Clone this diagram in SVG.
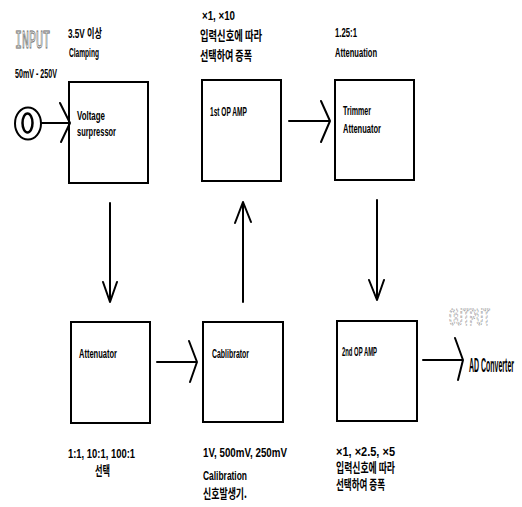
<svg xmlns="http://www.w3.org/2000/svg" width="522" height="507" viewBox="0 0 522 507">
<style>
.box{fill:none;stroke:#000;stroke-width:2}
.ln{fill:none;stroke:#000;stroke-width:2;stroke-linecap:round;stroke-linejoin:round}
.t{font-family:"Liberation Sans","Noto Sans CJK KR",sans-serif;font-size:12px;font-weight:bold;fill:#000}
.k{font-family:"Noto Sans CJK KR",sans-serif;font-size:13px;font-weight:bold;fill:#000}
.h{font-family:"Liberation Mono",monospace;font-size:12px;fill:none;stroke:#666;stroke-width:0.8}
.hd{font-family:"Liberation Mono",monospace;font-size:11.4px;fill:none;stroke:#888;stroke-width:0.8;stroke-dasharray:2 1.5}
</style>
<rect width="522" height="507" fill="#fff"/>

<g id="input">
  <text class="h" transform="translate(15,48) scale(1,2.2)" x="0" y="0" textLength="35" lengthAdjust="spacingAndGlyphs" vector-effect="non-scaling-stroke">INPUT</text>
  <text class="t" x="15" y="78" textLength="42" lengthAdjust="spacingAndGlyphs">50mV - 250V</text>
  <ellipse cx="28" cy="123.5" rx="13" ry="16" class="ln"/>
  <ellipse cx="27.5" cy="123" rx="5" ry="9.5" fill="none" stroke="#000" stroke-width="2.5"/>
</g>

<g id="voltage-surpressor">
  <text class="t" x="68" y="38" textLength="34" lengthAdjust="spacingAndGlyphs">3.5V 이상</text>
  <text class="t" x="69" y="57" textLength="30" lengthAdjust="spacingAndGlyphs">Clamping</text>
  <rect class="box" x="69" y="82" width="79" height="101"/>
  <text class="t" x="77" y="120" textLength="28" lengthAdjust="spacingAndGlyphs">Voltage</text>
  <text class="t" x="77" y="136" textLength="39" lengthAdjust="spacingAndGlyphs">surpressor</text>
</g>

<g id="op-amp-1">
  <text class="t" x="202" y="20" textLength="33" lengthAdjust="spacingAndGlyphs">×1, ×10</text>
  <text class="k" x="200" y="40" textLength="62" lengthAdjust="spacingAndGlyphs">입력신호에 따라</text>
  <text class="k" x="200" y="60" textLength="52" lengthAdjust="spacingAndGlyphs">선택하여 증폭</text>
  <rect class="box" x="202" y="80" width="79" height="101"/>
  <text class="t" x="210" y="116" textLength="37" lengthAdjust="spacingAndGlyphs">1st OP AMP</text>
</g>

<g id="trimmer-attenuator">
  <text class="t" x="335" y="37" textLength="22" lengthAdjust="spacingAndGlyphs">1.25:1</text>
  <text class="t" x="335" y="57" textLength="42" lengthAdjust="spacingAndGlyphs">Attenuation</text>
  <rect class="box" x="335" y="80" width="79" height="100"/>
  <text class="t" x="343" y="115" textLength="28" lengthAdjust="spacingAndGlyphs">Trimmer</text>
  <text class="t" x="343" y="133" textLength="38" lengthAdjust="spacingAndGlyphs">Attenuator</text>
</g>

<g id="attenuator">
  <rect class="box" x="71" y="322" width="79" height="101"/>
  <text class="t" x="79" y="358" textLength="38" lengthAdjust="spacingAndGlyphs">Attenuator</text>
  <text class="t" x="68" y="458" textLength="67" lengthAdjust="spacingAndGlyphs">1:1, 10:1, 100:1</text>
  <text class="k" x="95" y="475" textLength="15" lengthAdjust="spacingAndGlyphs">선택</text>
</g>

<g id="cablibrator">
  <rect class="box" x="203" y="322" width="80" height="100"/>
  <text class="t" x="212" y="358" textLength="37" lengthAdjust="spacingAndGlyphs">Cablibrator</text>
  <text class="t" x="203" y="457" textLength="84" lengthAdjust="spacingAndGlyphs">1V, 500mV, 250mV</text>
  <text class="t" x="203" y="480" textLength="44" lengthAdjust="spacingAndGlyphs">Calibration</text>
  <text class="k" x="203" y="498" textLength="44" lengthAdjust="spacingAndGlyphs">신호발생기.</text>
</g>

<g id="op-amp-2">
  <rect class="box" x="337" y="321" width="80" height="100"/>
  <text class="t" x="342" y="356" textLength="35" lengthAdjust="spacingAndGlyphs">2nd OP AMP</text>
  <text class="t" x="336" y="456" font-size="11" textLength="59" lengthAdjust="spacingAndGlyphs">×1, ×2.5, ×5</text>
  <text class="k" x="336" y="472" font-size="12" textLength="59" lengthAdjust="spacingAndGlyphs">입력신호에 따라</text>
  <text class="k" x="336" y="489" font-size="12" textLength="49" lengthAdjust="spacingAndGlyphs">선택하여 증폭</text>
</g>

<g id="output">
  <text class="hd" transform="translate(449,325) scale(1,2.1)" x="0" y="0" textLength="41" lengthAdjust="spacingAndGlyphs" vector-effect="non-scaling-stroke">OUTPUT</text>
  <text class="t" transform="translate(469,372) scale(1,1.7)" x="0" y="0" font-size="7.2" textLength="45" lengthAdjust="spacingAndGlyphs">AD Converter</text>
</g>

<g id="connectors">
  <path class="ln" d="M41 123H70M60 103L70 123L61 142"/>
  <path class="ln" d="M289 121H330M321 101L330 121L321 142"/>
  <path class="ln" d="M110 203V302M103 282L110 302L117 282"/>
  <path class="ln" d="M243 302V202M235 223L243 202L251 222"/>
  <path class="ln" d="M377 200V300M369 280L377 300L384 280"/>
  <path class="ln" d="M157 362H197M189 341L197 362L190 382"/>
  <path class="ln" d="M423 360H463M455 338L463 360L458 380"/>
</g>
</svg>
